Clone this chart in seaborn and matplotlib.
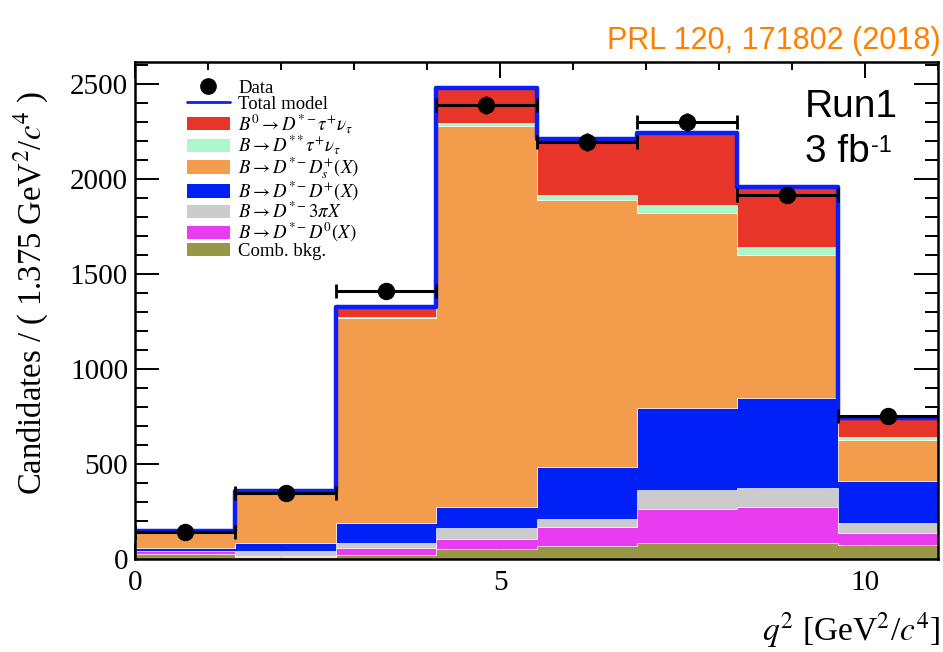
import numpy as np
import pandas as pd
import matplotlib
matplotlib.use("Agg")
import matplotlib.pyplot as plt
from matplotlib.lines import Line2D
from matplotlib.patches import Patch
from matplotlib.ticker import MultipleLocator
import seaborn as sns

# q^2 binning (GeV^2/c^4)
q2_edges = [0.0, 1.375, 2.75, 4.125, 5.5, 6.875, 8.25, 9.625, 11.0]

# observed candidates per bin
data_counts = [140, 350, 1410, 2390, 2195, 2300, 1915, 753]

# fitted template yields per bin (top of stack first)
sig_tau = [0, 3, 49, 185, 294, 379, 316, 100]
dss_tau = [1, 2, 6, 16, 27, 42, 42, 16]
dstar_ds = [90, 271, 1080, 2005, 1405, 1026, 753, 215]
dstar_dplus = [16, 42, 106, 111, 273, 432, 473, 222]
dstar_3pi = [2, 24, 26, 58, 43, 100, 100, 52]
dstar_d0 = [15, 8, 38, 52, 100, 179, 190, 63]
comb_bkg = [25, 10, 20, 53, 68, 84, 84, 74]

labels = [
    r"$B^0 \rightarrow D^{*-}\tau^{+}\nu_{\tau}$",
    r"$B \rightarrow D^{**}\tau^{+}\nu_{\tau}$",
    r"$B \rightarrow D^{*-}D_s^{+}(X)$",
    r"$B \rightarrow D^{*-}D^{+}(X)$",
    r"$B \rightarrow D^{*-}3\pi X$",
    r"$B \rightarrow D^{*-}D^{0}(X)$",
    "Comb. bkg.",
]
yields = [sig_tau, dss_tau, dstar_ds, dstar_dplus, dstar_3pi, dstar_d0, comb_bkg]
colors = ["#e8352a", "#adf5cb", "#f29c4c", "#0020f5", "#cbcbcb", "#e93cf0", "#999745"]
model_color = "#0a1ef5"

centers = [(lo + hi) / 2 for lo, hi in zip(q2_edges[:-1], q2_edges[1:])]
halfw = [(hi - lo) / 2 for lo, hi in zip(q2_edges[:-1], q2_edges[1:])]

rows = []
for lab, ys in zip(labels, yields):
    for c, v in zip(centers, ys):
        rows.append({"q2": c, "count": v, "component": lab})
df = pd.DataFrame(rows)
total = np.sum(np.array(yields), axis=0)

sns.set_style("ticks")
plt.rcParams["font.family"] = ["Liberation Serif", "DejaVu Serif"]
plt.rcParams["mathtext.fontset"] = "stix"
for key in ("text.color", "axes.labelcolor", "xtick.color", "ytick.color",
            "axes.edgecolor"):
    plt.rcParams[key] = "black"

fig = plt.figure(figsize=(9.43, 6.52), dpi=100)
ax = fig.add_axes([0.1432, 0.1426, 0.8515, 0.7622])

sns.histplot(data=df, x="q2", weights="count", hue="component",
             hue_order=labels, palette=colors, bins=q2_edges,
             multiple="stack", element="step", fill=True, alpha=1,
             linewidth=0.4, legend=False, ax=ax)

sns.histplot(x=centers, weights=total, bins=q2_edges, element="step",
             fill=False, color=model_color, linewidth=3.2, ax=ax)

ax.errorbar(centers, data_counts, xerr=halfw, fmt="none", ecolor="black",
            elinewidth=2.2, capsize=5, capthick=2, zorder=5)
ax.errorbar(centers, data_counts, yerr=np.sqrt(data_counts), fmt="o",
            color="black", ms=11.5, elinewidth=2.2, capsize=0, zorder=6)

ax.set_xlim(0, 11)
ax.set_ylim(0, 2615)
ax.set_xlabel("")
ax.set_ylabel("")
ax.xaxis.set_major_locator(MultipleLocator(5))
ax.xaxis.set_minor_locator(MultipleLocator(1))
ax.yaxis.set_major_locator(MultipleLocator(500))
ax.yaxis.set_minor_locator(MultipleLocator(100))
ax.tick_params(which="both", direction="in", top=True, right=True,
               width=1.4, color="black", labelcolor="black", labelsize=21)
ax.tick_params(axis="x", which="major", length=11.5, pad=8)
ax.tick_params(axis="x", which="minor", length=5.8)
ax.tick_params(axis="y", which="major", length=17, pad=5)
ax.tick_params(axis="y", which="minor", length=9.5)
for sp in ax.spines.values():
    sp.set_linewidth(1.8)
    sp.set_color("black")

fig.text(0.033, 0.55, r"Candidates / ( 1.375 GeV$^2$/$c^4$ )",
         rotation=90, ha="center", va="center", fontsize=23.5)
fig.text(0.997, 0.018, r"$q^2$ [GeV$^2$/$c^4$]", ha="right",
         va="baseline", fontsize=24)

handles = [Line2D([], [], marker="o", color="black", ls="none", ms=11),
           Line2D([], [], color=model_color, lw=2)]
handles += [Patch(facecolor=c, edgecolor="none") for c in colors]
leg = ax.legend(handles, ["Data", "Total model"] + labels,
                loc="upper left", bbox_to_anchor=(0.055, 0.98),
                frameon=False, fontsize=13.5, handlelength=2.3,
                handleheight=0.7, labelspacing=-0.06, handletextpad=0.45,
                borderaxespad=0)

sans = ["Liberation Sans", "DejaVu Sans"]
ax.text(0.834, 0.889, "Run1", transform=ax.transAxes, fontsize=28,
        family=sans, va="baseline")
fb = ax.text(0.834, 0.799, "3 fb", transform=ax.transAxes,
             fontsize=28, family=sans, va="baseline")
ax.annotate("-1", xy=(1, 1), xycoords=fb, xytext=(1, -1),
            textcoords="offset points", ha="left", va="top",
            fontsize=17, family=sans)

fig.text(0.997, 0.925, "PRL 120, 171802 (2018)", ha="right", va="baseline",
         fontsize=22, color="#ff8000", family=sans)

fig.savefig("out.png", dpi=100)
